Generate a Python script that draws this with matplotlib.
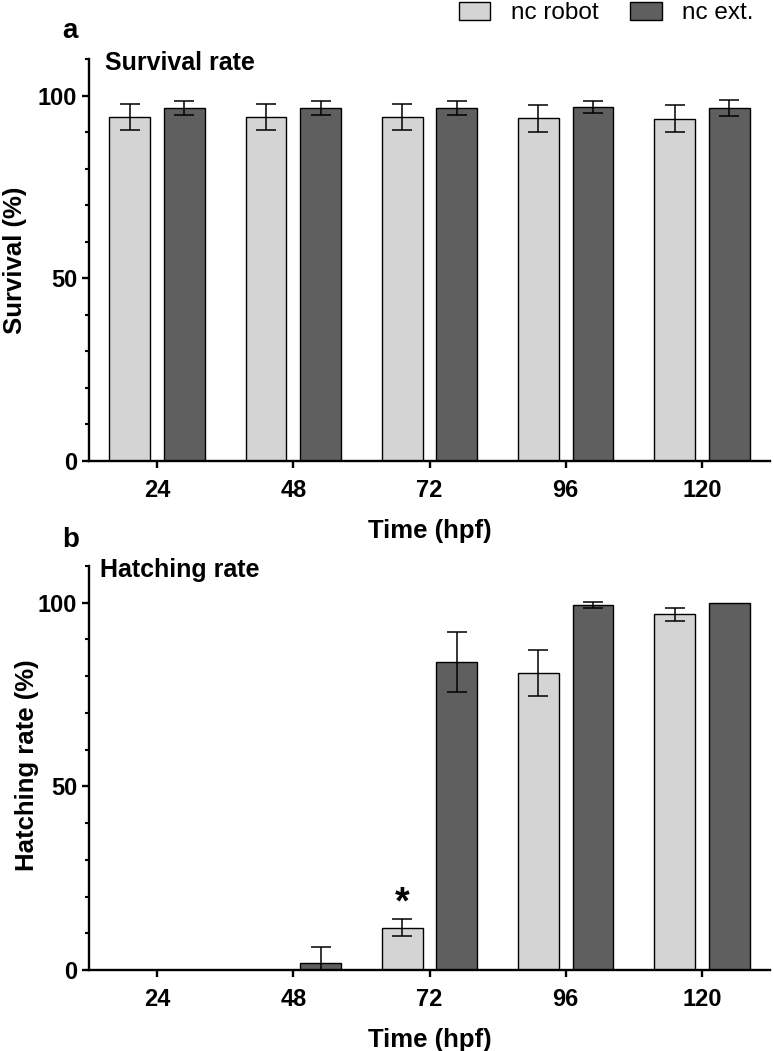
import numpy as np
import matplotlib
matplotlib.use("Agg")
import matplotlib.pyplot as plt
from matplotlib.ticker import MultipleLocator
from matplotlib.patches import Patch

plt.rcParams['font.family'] = ['Liberation Sans', 'DejaVu Sans']

times = ["24", "48", "72", "96", "120"]

# survival (%)
surv_robot = [94.1, 94.1, 94.1, 93.8, 93.7]
surv_robot_err = [3.5, 3.5, 3.5, 3.7, 3.7]
surv_ext = [96.6, 96.6, 96.6, 96.8, 96.6]
surv_ext_err = [1.9, 1.9, 1.9, 1.7, 2.2]

# hatching rate (%)
hatch_robot = [0, 0, 11.5, 80.9, 96.8]
hatch_robot_err = [0, 0, 2.3, 6.3, 1.9]
hatch_ext = [0, 2.0, 83.8, 99.5, 100]
hatch_ext_err = [0, 4.2, 8.2, 0.8, 0]

signif = ["", "", "*", "", ""]  # above nc robot bars in panel b

light = "#d4d4d4"
dark = "#5f5f5f"
W, H = 774, 1051

fig = plt.figure(figsize=(W / 100, H / 100), dpi=100)


def px(x, y):
    return x / W, 1 - y / H


def panel(rect, a, a_err, b, b_err):
    ax = fig.add_axes(rect)
    x = np.arange(len(times))
    ax.bar(x - 0.2, a, 0.3, color=light, edgecolor="black", linewidth=1.0, zorder=2)
    ax.bar(x + 0.2, b, 0.3, color=dark, edgecolor="black", linewidth=1.0, zorder=2)
    for off, vals, errs in [(-0.2, a, a_err), (0.2, b, b_err)]:
        for xi, v, e in zip(x + off, vals, errs):
            if e > 0:
                ax.errorbar(xi, v, yerr=[[min(e, v)], [e]], fmt="none", ecolor="black",
                            elinewidth=1.1, capsize=7.5, capthick=1.1, zorder=3)
    ax.set_xlim(-0.5, 4.5)
    ax.set_ylim(0, 110)
    ax.set_yticks([0, 50, 100])
    ax.yaxis.set_minor_locator(MultipleLocator(10))
    ax.set_xticks(x)
    ax.set_xticklabels(times)
    for s in ["top", "right"]:
        ax.spines[s].set_visible(False)
    for s in ["left", "bottom"]:
        ax.spines[s].set_linewidth(1.7)
    ax.tick_params(axis="both", which="major", width=1.7, length=5, labelsize=17)
    ax.tick_params(axis="y", which="minor", width=1.5, length=3)
    ax.tick_params(axis="y", which="major", pad=3.5)
    ax.tick_params(axis="x", which="major", pad=8)
    for lab in ax.get_xticklabels() + ax.get_yticklabels():
        lab.set_fontweight("bold")
    ax.set_xlabel("Time (hpf)", fontsize=18.5, fontweight="bold", labelpad=12)
    return ax


axa = panel([89 / W, 1 - 461 / H, 681 / W, 402 / H], surv_robot, surv_robot_err, surv_ext, surv_ext_err)
axb = panel([89 / W, 1 - 970 / H, 681 / W, 404 / H], hatch_robot, hatch_robot_err, hatch_ext, hatch_ext_err)

for i, s in enumerate(signif):
    if s:
        axb.text(i - 0.2, hatch_robot[i] + hatch_robot_err[i] - 0.5, s, ha="center", va="bottom",
                 fontsize=27, fontweight="bold")

fig.text(*px(15, 260), "Survival (%)", rotation=90, ha="center", va="center", fontsize=18.5, fontweight="bold")
fig.text(*px(27, 765), "Hatching rate (%)", rotation=90, ha="center", va="center", fontsize=18.5, fontweight="bold")

fig.text(*px(62, 38), "a", fontsize=20, fontweight="bold", va="baseline")
fig.text(*px(62, 547), "b", fontsize=20, fontweight="bold", va="baseline")
fig.text(*px(105, 70), "Survival rate", fontsize=18, fontweight="bold", va="baseline")
fig.text(*px(100, 577), "Hatching rate", fontsize=18, fontweight="bold", va="baseline")

handles = [Patch(facecolor=light, edgecolor="black", linewidth=1.0),
           Patch(facecolor=dark, edgecolor="black", linewidth=1.0)]
fig.legend(handles, ["nc robot", "nc ext."], loc="upper right", bbox_to_anchor=px(754, 2),
           ncol=2, frameon=False, fontsize=17.5, handlelength=1.3, handleheight=0.75,
           columnspacing=1.3, handletextpad=0.85, borderpad=0, borderaxespad=0)

fig.savefig("out.png", dpi=100)
